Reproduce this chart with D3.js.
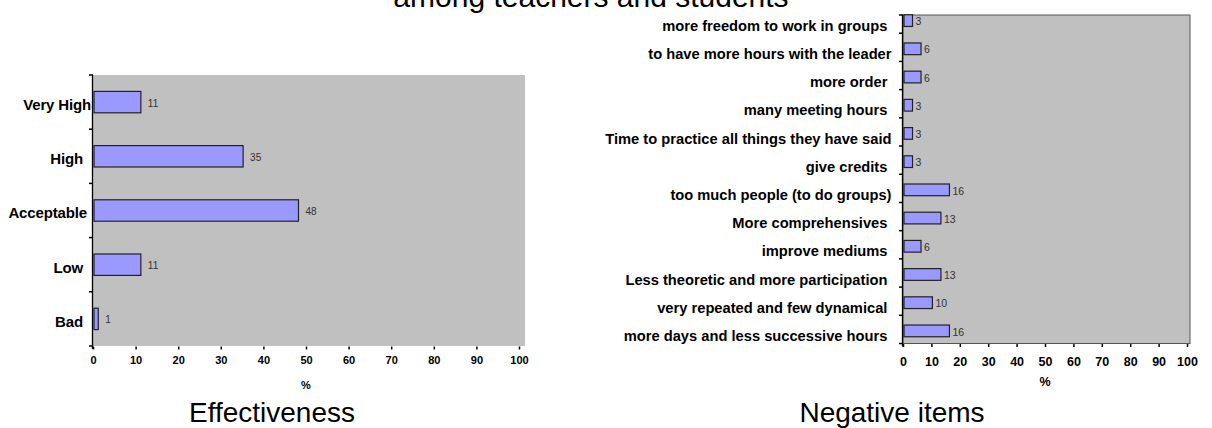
<!DOCTYPE html>
<html><head><meta charset="utf-8">
<script src="https://cdn.jsdelivr.net/npm/d3@7"></script>
<style>
html,body{margin:0;padding:0;background:#fff;overflow:hidden}
text{font-family:"Liberation Sans",Arial,sans-serif;white-space:pre}
</style></head>
<body>
<svg id="c" width="1212" height="428"></svg>
<script>
const topTitle = "among teachers and students";
const effCats = ["Very High", "High  ", "Acceptable ", "Low  ", "Bad  "];
const effVals = [11, 35, 48, 11, 1];
const negCats = [
  "more freedom to work in groups ",
  "to have more hours with the leader",
  "more order ",
  "many meeting hours ",
  "Time to practice all things they have said",
  "give credits ",
  "too much people (to do groups)",
  "More comprehensives ",
  "improve mediums ",
  "Less theoretic and more participation ",
  "very repeated and few dynamical ",
  "more days and less successive hours "
];
const negVals = [3, 6, 6, 3, 3, 3, 16, 13, 6, 13, 10, 16];
const xTicks = [0, 10, 20, 30, 40, 50, 60, 70, 80, 90, 100];
const titles = ["Effectiveness", "Negative items"];
const xLabel = "%";

const svg = d3.select("#c");

svg.append("text").attr("x", 591).attr("y", 7).attr("text-anchor", "middle")
  .attr("font-size", 30).attr("fill", "#000").text(topTitle);

function panel(o) {
  const g = svg.append("g");
  const x = d3.scaleLinear().domain([0, 100]).range([o.x0, o.x1]);
  const y = d3.scaleBand().domain(o.cats).range([o.y0, o.y1]).padding(0);
  const st = y.step();
  // plot background
  g.append("rect").attr("x", o.x0).attr("y", o.bgTop).attr("width", o.bgRight - o.x0)
    .attr("height", o.y1 - o.bgTop).attr("fill", "#c0c0c0")
    .attr("stroke", o.border ? "#555" : "none").attr("stroke-width", 1);
  // bars
  g.selectAll("rect.bar").data(o.vals).join("rect").attr("class", "bar")
    .attr("x", x(0) + 1)
    .attr("y", (d, i) => y(o.cats[i]) + st * (1 - o.frac) / 2 + o.barShift)
    .attr("width", d => x(d) - x(0))
    .attr("height", st * o.frac)
    .attr("fill", "#9999ff").attr("stroke", "#222").attr("stroke-width", 1.2);
  // value labels
  g.selectAll("text.val").data(o.vals).join("text").attr("class", "val")
    .attr("x", d => x(d) + o.valOff)
    .attr("y", (d, i) => y(o.cats[i]) + st / 2 + o.barShift + 1)
    .attr("dy", "0.35em").attr("font-size", o.valSize).attr("fill", "#333")
    .text(d => d);
  // y axis
  const ya = d3.axisLeft(y).tickSize(0).tickPadding(o.labPad);
  const yg = g.append("g").attr("transform", `translate(${o.x0 - 0.5},0)`).call(ya);
  yg.select(".domain").attr("stroke", "#000").attr("stroke-width", 1.3)
    .attr("d", `M0,${o.bgTop}V${o.y1 + 3}`);
  yg.selectAll(".tick").attr("transform", d => `translate(0,${y(d) + st / 2 + o.labY})`);
  yg.selectAll("text").attr("font-size", o.labSize).attr("font-weight", "bold")
    .attr("fill", "#000").attr("font-family", "Liberation Sans, Arial, sans-serif")
    .style("letter-spacing", o.labLs + "px");
  // category boundary ticks
  const bounds = o.cats.slice(1).map(c => y(c)).concat([o.bgTop, o.y1]);
  g.selectAll("line.yt").data(bounds).join("line").attr("class", "yt")
    .attr("x1", o.x0 - 4).attr("x2", o.x0).attr("y1", d => d).attr("y2", d => d)
    .attr("stroke", "#000").attr("stroke-width", 1.5);
  // x axis
  const xa = d3.axisBottom(x).tickValues(xTicks).tickSize(3).tickPadding(o.tickPad);
  const xg = g.append("g").attr("transform", `translate(0,${o.y1 + 0.5})`).call(xa);
  xg.select(".domain").remove();
  xg.selectAll("line").attr("stroke", "#000").attr("stroke-width", 1.5);
  xg.selectAll("text").attr("font-size", o.tickSize).attr("font-weight", "bold")
    .attr("fill", "#000").attr("font-family", "Liberation Sans, Arial, sans-serif");
  g.append("text").attr("x", x(50)).attr("y", o.pctY).attr("text-anchor", "middle")
    .attr("font-size", o.tickSize).attr("font-weight", "bold").text(xLabel);
  g.append("text").attr("x", o.titleX).attr("y", o.titleY).attr("text-anchor", "middle")
    .attr("font-size", 28).attr("fill", "#000").text(o.title);
}

panel({
  cats: effCats, vals: effVals, x0: 93, x1: 519, bgRight: 525, y0: 75, y1: 346,
  bgTop: 75, frac: 0.395, barShift: 0, valOff: 8, valSize: 10, labPad: 1.5, labSize: 15, labLs: -0.15,
  labY: 3, tickPad: 7, tickSize: 11, pctY: 389, titleX: 272, titleY: 422, title: titles[0], border: false
});
panel({
  cats: negCats, vals: negVals, x0: 903, x1: 1187, bgRight: 1190, y0: 5, y1: 343.5,
  bgTop: 15, frac: 0.415, barShift: 1.5, valOff: 4, valSize: 10.5, labPad: 11, labSize: 14.7, labLs: 0,
  labY: 7, tickPad: 10, tickSize: 12.5, pctY: 386, titleX: 892, titleY: 422, title: titles[1], border: true
});
</script>
</body></html>
